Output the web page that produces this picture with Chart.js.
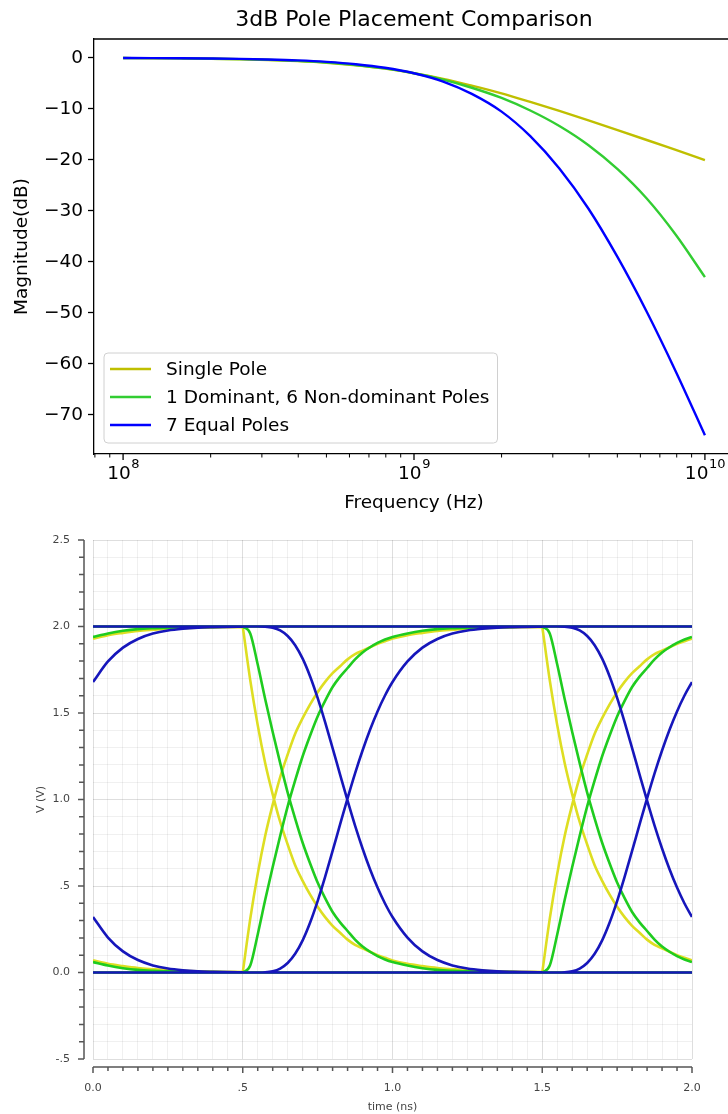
<!DOCTYPE html>
<html>
<head>
<meta charset="utf-8">
<title>3dB Pole Placement Comparison</title>
<script src="https://cdn.jsdelivr.net/npm/chart.js@4.4.1/dist/chart.umd.min.js"></script>
<style>
  html, body { margin: 0; padding: 0; background: #fff; }
  body { width: 728px; height: 1114px; position: relative; overflow: hidden; }
  #bodeBox { position: absolute; left: 0; top: 0; width: 728px; height: 520px; overflow: hidden; }
  #eyeBox { position: absolute; left: 0; top: 520px; width: 728px; height: 594px; }
  canvas { display: block; }
</style>
</head>
<body>
<div id="bodeBox"><canvas id="bodeChart" width="740" height="520"></canvas></div>
<div id="eyeBox"><canvas id="eyeChart" width="728" height="594"></canvas></div>
<script>
// ---------- top: magnitude response ----------
const freqHz = [1.00e8, 1.26e8, 1.58e8, 2.00e8, 2.51e8, 3.16e8, 3.98e8, 5.01e8, 6.31e8, 7.94e8,
  1.00e9, 1.26e9, 1.58e9, 2.00e9, 2.51e9, 3.16e9, 3.98e9, 5.01e9, 6.31e9, 7.94e9, 1.00e10];
const singlePoleDb = [-0.04, -0.07, -0.11, -0.17, -0.27, -0.41, -0.64, -0.97, -1.46, -2.12,
  -3.01, -4.12, -5.46, -6.97, -8.64, -10.41, -12.27, -14.17, -16.11, -18.07, -20.04];
const dominantPolesDb = [-0.04, -0.06, -0.10, -0.16, -0.25, -0.39, -0.60, -0.92, -1.39, -2.07,
  -3.01, -4.26, -5.86, -7.86, -10.33, -13.37, -17.14, -21.84, -27.6, -34.7, -43.0];
const equalPolesDb = [-0.03, -0.05, -0.08, -0.13, -0.20, -0.32, -0.50, -0.79, -1.24, -1.93,
  -3.01, -4.64, -7.06, -10.54, -15.35, -21.7, -29.6, -39.1, -49.8, -61.5, -74.0];
const seriesNames = ['Single Pole', '1 Dominant, 6 Non-dominant Poles', '7 Equal Poles'];
const decadeTicks = [1e8, 1e9, 1e10];
const decadeExponents = ['8', '9', '10'];
const magTicks = [-70, -60, -50, -40, -30, -20, -10, 0];
const magTickLabels = ['\u221270', '\u221260', '\u221250', '\u221240', '\u221230', '\u221220', '\u221210', '0'];

// ---------- bottom: eye diagram ----------
// time after a bit edge (ns) and the rising-edge response (V) of each system
const tauNs = [0, 0.025, 0.05, 0.075, 0.1, 0.125, 0.15, 0.175, 0.2, 0.225, 0.25, 0.275, 0.3, 0.325,
  0.35, 0.375, 0.4, 0.425, 0.45, 0.475, 0.5, 0.55, 0.6, 0.65, 0.7, 0.75, 0.8, 0.85, 0.9, 0.95, 1.0];
const riseSingle = [0, 0.31, 0.57, 0.79, 0.97, 1.13, 1.26, 1.38, 1.47, 1.55, 1.62, 1.68, 1.73, 1.77,
  1.81, 1.84, 1.86, 1.88, 1.90, 1.915, 1.93, 1.95, 1.963, 1.974, 1.981, 1.987, 1.99, 1.993, 1.995, 1.996, 1.997];
const riseDominant = [0, 0.04, 0.22, 0.42, 0.61, 0.79, 0.96, 1.11, 1.25, 1.37, 1.48, 1.57, 1.65, 1.71,
  1.76, 1.81, 1.85, 1.88, 1.905, 1.925, 1.94, 1.96, 1.975, 1.985, 1.99, 1.993, 1.995, 1.997, 1.998, 1.999, 2.0];
const riseEqual = [0, 0, 0, 0.001, 0.007, 0.023, 0.055, 0.108, 0.186, 0.289, 0.413, 0.553, 0.703, 0.856,
  1.007, 1.151, 1.283, 1.403, 1.509, 1.601, 1.679, 1.798, 1.878, 1.928, 1.959, 1.977, 1.987, 1.993, 1.996, 1.998, 1.999];
const bitEdgesNs = [-0.5, 0.5, 1.5];
const logicLevels = [0, 2];
const timeTickLabels = ['0.0', '.5', '1.0', '1.5', '2.0'];
const voltTickLabels = ['-.5', '0.0', '.5', '1.0', '1.5', '2.0', '2.5'];

const DJ = '"DejaVu Sans", sans-serif';
const FS = 18.5;

// ---------- top chart ----------
const minorTicks = [];
[1e7, 1e8, 1e9].forEach(d => { for (let m = 2; m <= 9; m++) minorTicks.push(m * d); });
const xMin = Math.pow(10, 7.9), xMax = Math.pow(10, 10.1);

const bodeDecor = {
  id: 'bodeDecor',
  afterDatasetsDraw(chart) {
    const {ctx, chartArea: a, scales: {x}} = chart;
    ctx.save();
    // top spine
    ctx.strokeStyle = '#000';
    ctx.lineWidth = 1.3;
    ctx.beginPath();
    ctx.moveTo(a.left, a.top);
    ctx.lineTo(a.right, a.top);
    ctx.stroke();
    // log ticks, major and minor, with 10^n labels
    ctx.fillStyle = '#000';
    ctx.textBaseline = 'alphabetic';
    ctx.textAlign = 'left';
    x.ticks.forEach(t => {
      const px = x.getPixelForValue(t.value);
      ctx.lineWidth = t.major ? 1.3 : 1;
      ctx.beginPath();
      ctx.moveTo(px, a.bottom);
      ctx.lineTo(px, a.bottom + (t.major ? 6 : 3.5));
      ctx.stroke();
      const i = decadeTicks.indexOf(t.value);
      if (i < 0) return;
      ctx.font = FS + 'px ' + DJ;
      const wBase = ctx.measureText('10').width;
      ctx.font = '13px ' + DJ;
      const wExp = ctx.measureText(decadeExponents[i]).width;
      const x0 = px - (wBase + wExp) / 2;
      ctx.font = FS + 'px ' + DJ;
      ctx.fillText('10', x0, a.bottom + 25);
      ctx.font = '13px ' + DJ;
      ctx.fillText(decadeExponents[i], x0 + wBase + 0.5, a.bottom + 14);
    });
    // title
    ctx.font = '22px ' + DJ;
    ctx.textAlign = 'center';
    ctx.textBaseline = 'middle';
    ctx.fillText('3dB Pole Placement Comparison', (a.left + a.right) / 2, 20);
    // legend, lower left
    ctx.font = FS + 'px ' + DJ;
    const items = chart.data.datasets;
    const textW = Math.max(...items.map(d => ctx.measureText(d.label).width));
    const rowH = 28, handle = 41;
    const w = 6 + handle + 15 + textW + 8;
    const h = 16 + rowH * (items.length - 1) + 18;
    const bx = a.left + 10, by = a.bottom - 11 - h;
    ctx.beginPath();
    ctx.roundRect(bx, by, w, h, 4);
    ctx.fillStyle = 'rgba(255,255,255,0.8)';
    ctx.fill();
    ctx.strokeStyle = '#d0d0d0';
    ctx.lineWidth = 1;
    ctx.stroke();
    ctx.textAlign = 'left';
    items.forEach((d, i) => {
      const cy = by + 16 + i * rowH;
      ctx.strokeStyle = d.borderColor;
      ctx.lineWidth = d.borderWidth;
      ctx.beginPath();
      ctx.moveTo(bx + 6, cy);
      ctx.lineTo(bx + 6 + handle, cy);
      ctx.stroke();
      ctx.fillStyle = '#000';
      ctx.fillText(d.label, bx + 6 + handle + 15, cy + 1);
    });
    ctx.restore();
  }
};

function bodeSet(label, values, color, order) {
  return {
    label,
    data: freqHz.map((f, i) => ({x: f, y: values[i]})),
    borderColor: color,
    borderWidth: 2.4,
    pointRadius: 0,
    cubicInterpolationMode: 'monotone',
    order
  };
}

const bodeChart = new Chart(document.getElementById('bodeChart'), {
  type: 'line',
  data: {
    datasets: [
      bodeSet(seriesNames[0], singlePoleDb, '#bfbf00', 2),
      bodeSet(seriesNames[1], dominantPolesDb, '#32cd32', 1),
      bodeSet(seriesNames[2], equalPolesDb, '#0000ff', 0)
    ]
  },
  options: {
    responsive: false,
    animation: false,
    events: [],
    layout: {padding: {top: 39, right: 6, left: 0, bottom: 0}},
    plugins: {legend: {display: false}, tooltip: {enabled: false}},
    scales: {
      x: {
        type: 'logarithmic',
        min: xMin,
        max: xMax,
        afterBuildTicks: s => {
          s.ticks = decadeTicks.concat(minorTicks.filter(v => v >= xMin && v <= xMax))
            .sort((p, q) => p - q)
            .map(v => ({value: v, major: decadeTicks.includes(v)}));
        },
        afterFit: s => { s.height = 66; s.paddingLeft = 0; s.paddingRight = 0; },
        ticks: {display: false},
        grid: {drawOnChartArea: false, tickLength: 6, tickColor: 'rgba(0,0,0,0)'},
        border: {display: true, color: '#000', width: 1.3},
        title: {display: true, text: 'Frequency (Hz)', color: '#000', font: {family: DJ, size: FS}, padding: {top: 0, bottom: 6}}
      },
      y: {
        min: -77.7,
        max: 3.7,
        afterBuildTicks: s => { s.ticks = magTicks.map(v => ({value: v})); },
        afterFit: s => { s.width = 94; s.paddingTop = 0; s.paddingBottom = 0; },
        ticks: {
          padding: 5,
          color: '#000',
          font: {family: DJ, size: FS},
          callback: v => magTickLabels[magTicks.indexOf(v)]
        },
        grid: {drawOnChartArea: false, tickLength: 6, tickColor: '#000', tickWidth: 1.3},
        border: {display: true, color: '#000', width: 1.3},
        title: {display: true, text: 'Magnitude(dB)', color: '#000', font: {family: DJ, size: FS}, padding: {top: 11, bottom: 0}}
      }
    }
  },
  plugins: [bodeDecor]
});

// ---------- bottom chart ----------
function eyeTrace(rise) {
  const pts = [];
  const gap = () => pts.push({x: pts[pts.length - 1].x, y: null});
  bitEdgesNs.forEach(t0 => {
    [false, true].forEach(falling => {
      tauNs.forEach((tau, i) => {
        const t = t0 + tau;
        if (t < -1e-9 || t > 2 + 1e-9) return;
        pts.push({x: t, y: falling ? 2 - rise[i] : rise[i]});
      });
      gap();
    });
  });
  logicLevels.forEach(v => {
    pts.push({x: 0, y: v}, {x: 2, y: v});
    gap();
  });
  return pts;
}

function eyeSet(rise, color, order) {
  return {
    data: eyeTrace(rise),
    borderColor: color,
    borderWidth: 2.6,
    pointRadius: 0,
    cubicInterpolationMode: 'monotone',
    spanGaps: false,
    order
  };
}

const eyeAxes = {
  id: 'eyeAxes',
  afterDraw(chart) {
    const {ctx, chartArea: a, scales: {x, y}} = chart;
    const axX = a.left - 9, axY = a.bottom + 8;
    ctx.save();
    ctx.strokeStyle = '#555';
    ctx.lineWidth = 1.5;
    ctx.beginPath();
    ctx.moveTo(axX, a.top);
    ctx.lineTo(axX, a.bottom);
    y.ticks.forEach(t => {
      const py = y.getPixelForValue(t.value);
      ctx.moveTo(axX - (t.major ? 6 : 5), py);
      ctx.lineTo(axX, py);
    });
    ctx.moveTo(a.left, axY);
    ctx.lineTo(a.right, axY);
    x.ticks.forEach(t => {
      const px = x.getPixelForValue(t.value);
      ctx.moveTo(px, axY);
      ctx.lineTo(px, axY + (t.major ? 6 : 4));
    });
    ctx.stroke();
    ctx.restore();
  }
};

const gridColor = c => (c.tick && c.tick.major) ? 'rgba(0,0,0,0.13)' : 'rgba(0,0,0,0.06)';
const eyeFont = {family: DJ, size: 11};

const eyeChart = new Chart(document.getElementById('eyeChart'), {
  type: 'line',
  data: {
    datasets: [
      eyeSet(riseSingle, '#dede22', 2),
      eyeSet(riseDominant, '#1fcc1f', 1),
      eyeSet(riseEqual, '#1616bb', 0)
    ]
  },
  options: {
    responsive: false,
    animation: false,
    events: [],
    layout: {padding: {top: 20, right: 36, left: 0, bottom: 0}},
    plugins: {legend: {display: false}, tooltip: {enabled: false}},
    scales: {
      x: {
        type: 'linear',
        min: 0,
        max: 2,
        afterBuildTicks: s => {
          s.ticks = [];
          for (let k = 0; k <= 40; k++) s.ticks.push({value: k / 20, major: k % 10 === 0});
        },
        afterFit: s => { s.height = 55; s.paddingLeft = 0; s.paddingRight = 0; },
        ticks: {
          autoSkip: false,
          maxRotation: 0,
          padding: 23,
          color: '#444',
          font: eyeFont,
          callback: v => {
            const k = Math.round(v * 2);
            return Math.abs(v * 2 - k) < 1e-6 ? timeTickLabels[k] : '';
          }
        },
        grid: {drawTicks: false, color: gridColor, lineWidth: 1},
        border: {display: false},
        title: {display: true, text: 'time (ns)', color: '#444', font: eyeFont, padding: {top: 0, bottom: 0}}
      },
      y: {
        min: -0.5,
        max: 2.5,
        afterBuildTicks: s => {
          s.ticks = [];
          for (let k = -5; k <= 25; k++) s.ticks.push({value: k / 10, major: k % 5 === 0});
        },
        afterFit: s => { s.width = 93; s.paddingTop = 0; s.paddingBottom = 0; },
        ticks: {
          autoSkip: false,
          padding: 23,
          color: '#444',
          font: eyeFont,
          callback: v => {
            const k = Math.round((v + 0.5) * 2);
            return Math.abs((v + 0.5) * 2 - k) < 1e-6 ? voltTickLabels[k] : '';
          }
        },
        grid: {drawTicks: false, color: gridColor, lineWidth: 1},
        border: {display: false},
        title: {display: true, text: 'V (V)', color: '#444', font: eyeFont, padding: {top: 35, bottom: 0}}
      }
    }
  },
  plugins: [eyeAxes]
});
</script>
</body>
</html>
